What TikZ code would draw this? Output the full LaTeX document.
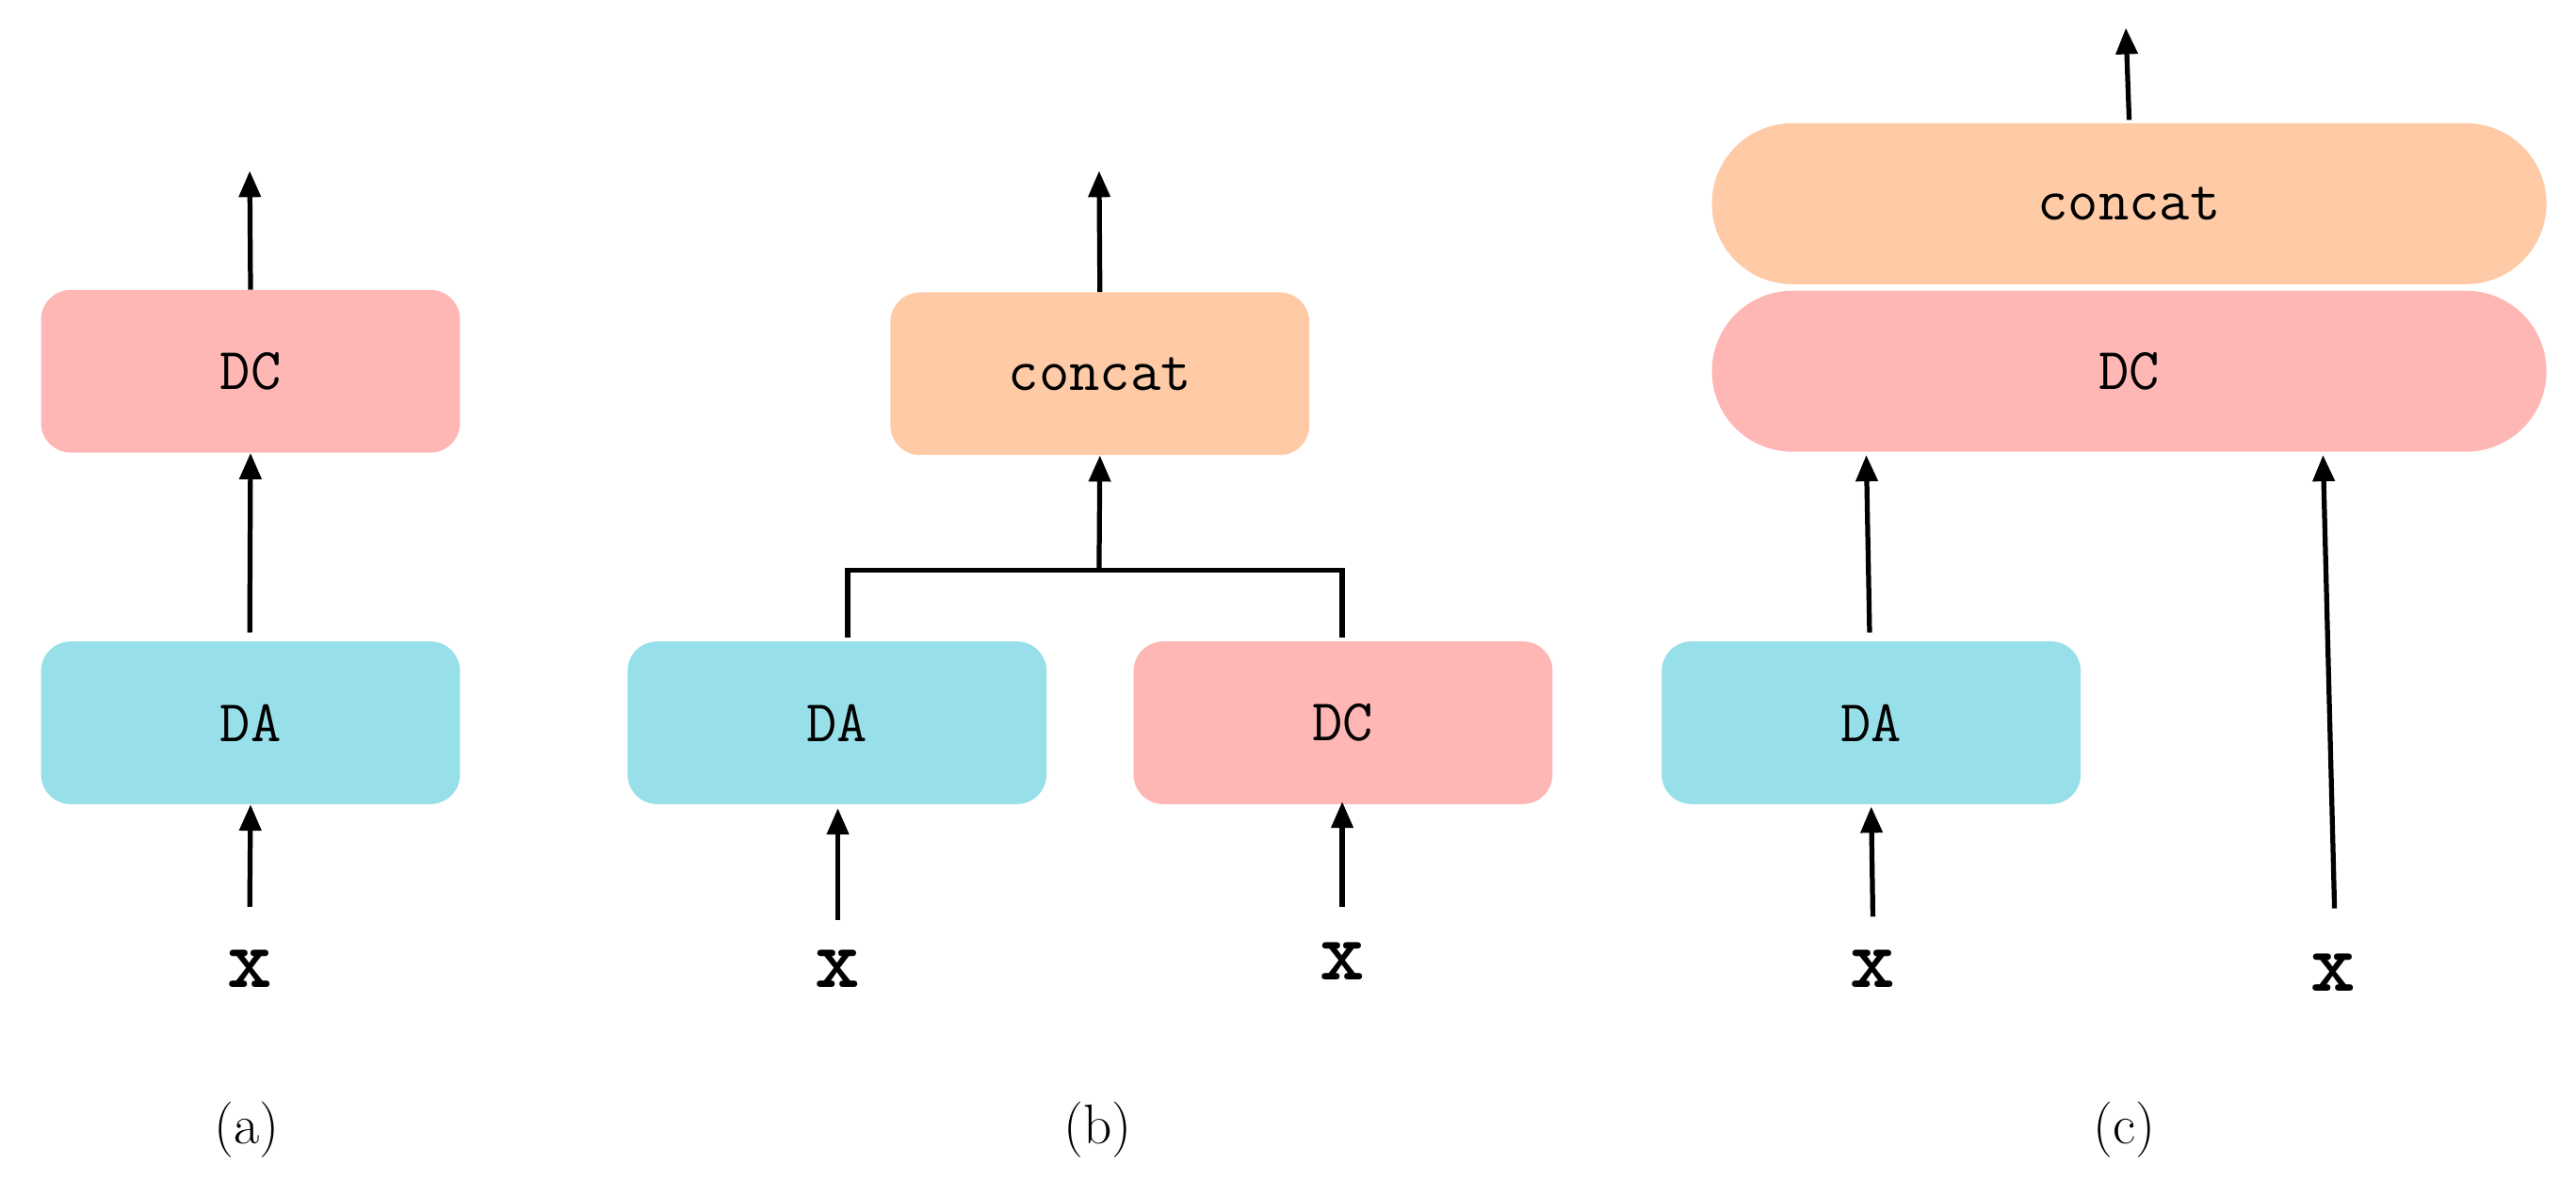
\documentclass[tikz,border=0pt]{standalone}
\usetikzlibrary{arrows.meta}
\definecolor{dcc}{HTML}{FFB7B5}
\definecolor{dac}{HTML}{97E0EA}
\definecolor{cc}{HTML}{FECBA6}
\begin{document}
\begin{tikzpicture}[x=1pt,y=-1pt,
  box/.style={rounded corners=18pt,minimum width=255pt,minimum height=99pt,inner sep=0pt,font=\fontsize{36}{38}\selectfont\ttfamily},
  pill/.style={rounded corners=49pt,minimum width=508pt,minimum height=98pt,inner sep=0pt,font=\fontsize{36}{38}\selectfont\ttfamily},
  arr/.style={line width=3pt,-{Triangle[length=16pt,width=13pt]}},
  ln/.style={line width=3pt},
  xl/.style={font=\fontsize{52}{54}\selectfont\bfseries\ttfamily,inner sep=0pt},
  sublbl/.style={font=\fontsize{34}{36}\selectfont}]
\useasboundingbox (0,0) rectangle (1568,728);
% (a)
\node[box,fill=dcc] (adc) at (152.5,226) {DC};
\node[box,fill=dac] (ada) at (152.5,440) {DA};
\node[xl] (ax) at (152,590) {x};
\coordinate (aout) at (152,104);
\draw[arr] (adc.north) -- (aout);
\draw[arr] (152,385) -- (adc.south);
\draw[arr] (152,552) -- (ada.south);
\node[sublbl] (la) at (150,688) {(a)};
% (b)
\node[box,fill=cc] (bcc) at (669.5,227.5) {concat};
\node[box,fill=dac] (bda) at (509.5,440) {DA};
\node[box,fill=dcc] (bdc) at (817.5,440) {DC};
\node[xl] (bx1) at (510,590) {x};
\node[xl] (bx2) at (817,585) {x};
\coordinate (bout) at (669,104);
\coordinate (bj) at (669,347);
\draw[arr] (bcc.north) -- (bout);
\draw[ln] (516,388) -- (516,347) -- (817,347) -- (817,388);
\draw[arr] (bj) -- (bcc.south);
\draw[arr] (510,560) -- (510,492);
\draw[arr] (817,552) -- (817,488);
\node[sublbl] (lb) at (668,688) {(b)};
% (c)
\node[pill,fill=cc] (ccc) at (1296,124) {concat};
\node[pill,fill=dcc] (cdc) at (1296,226) {DC};
\node[box,fill=dac] (cda) at (1139,440) {DA};
\node[xl] (cx1) at (1140,590) {x};
\node[xl] (cx2) at (1420,592) {x};
\coordinate (cout) at (1294,17);
\draw[arr] (1296,73) -- (cout);
\draw[arr] (1138,385) -- (1136,277);
\draw[arr] (1421,553) -- (1414,277);
\draw[arr] (1140,558) -- (1139,491);
\node[sublbl] (lc) at (1293,688) {(c)};
\end{tikzpicture}
\end{document}
